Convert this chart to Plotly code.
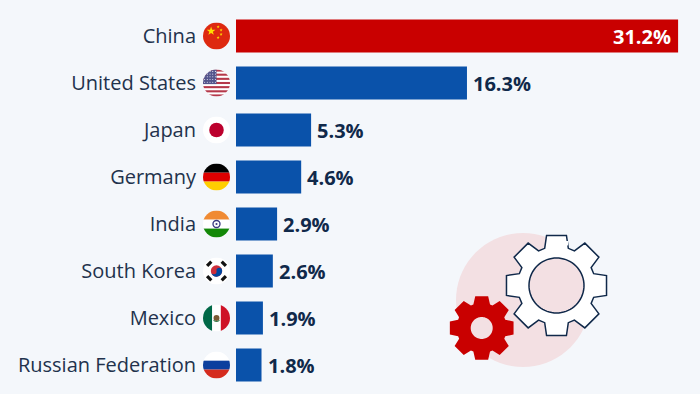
import base64, math
import plotly.graph_objects as go

countries = ["China", "United States", "Japan", "Germany", "India", "South Korea", "Mexico", "Russian Federation"]
shares = [31.2, 16.3, 5.3, 4.6, 2.9, 2.6, 1.9, 1.8]
bar_colors = ["#c90000", "#0a52aa", "#0a52aa", "#0a52aa", "#0a52aa", "#0a52aa", "#0a52aa", "#0a52aa"]
label_colors = ["#ffffff", "#10294a", "#10294a", "#10294a", "#10294a", "#10294a", "#10294a", "#10294a"]
label_inside = [True, False, False, False, False, False, False, False]

W, H = 700, 394
BG = "#f4f7fb"
INK = "#10294a"
TICK_INK = "#22324c"
X0, PX_PER_UNIT = 236, 14.17
ROW0, PITCH, BAR_H = 36, 47, 33


def star(cx, cy, r, rot=-90):
    pts = []
    for i in range(10):
        rad = r if i % 2 == 0 else r * 0.4
        a = math.radians(rot + i * 36)
        pts.append(f"{cx + rad * math.cos(a):.1f},{cy + rad * math.sin(a):.1f}")
    return f'<polygon points="{" ".join(pts)}" fill="#ffde00"/>'


def rect(x, y, w, h, c):
    return f'<rect x="{x}" y="{y}" width="{w}" height="{h}" fill="{c}"/>'


def flag_china():
    return rect(0, 0, 100, 100, "#de2910") + star(30, 32, 17) + "".join(
        star(x, y, 6) for x, y in [(56, 16), (67, 28), (67, 44), (56, 56)])


def flag_us():
    s = rect(0, 0, 100, 100, "#ffffff")
    for i in range(0, 13, 2):
        s += rect(0, i * 100 / 13, 100, 100 / 13, "#b5384a")
    s += rect(0, 0, 50, 54, "#54558c")
    for r in range(5):
        for c in range(5):
            s += f'<circle cx="{6 + c * 10}" cy="{7 + r * 10}" r="2" fill="#e8e8f4"/>'
    return s


def flag_japan():
    return rect(0, 0, 100, 100, "#ffffff") + '<circle cx="50" cy="50" r="27" fill="#bc002d"/>'


def flag_germany():
    return rect(0, 0, 100, 34, "#000000") + rect(0, 34, 100, 33, "#dd0000") + rect(0, 67, 100, 33, "#ffce00")


def flag_india():
    return (rect(0, 0, 100, 34, "#f08a32") + rect(0, 34, 100, 33, "#ffffff") + rect(0, 67, 100, 33, "#138808")
            + '<circle cx="50" cy="50" r="13" fill="none" stroke="#3a3a80" stroke-width="5"/>'
            + '<circle cx="50" cy="50" r="4" fill="#3a3a80"/>')


def flag_korea():
    s = rect(0, 0, 100, 100, "#ffffff")
    s += '<circle cx="50" cy="50" r="21" fill="#cd2e3a"/>'
    s += '<path d="M29 50 A21 21 0 0 0 71 50 A10.5 10.5 0 0 0 50 50 A10.5 10.5 0 0 1 29 50 Z" fill="#0047a0" transform="rotate(-10 50 50)"/>'
    for cx, cy, a in [(23, 23, -45), (77, 23, 45), (23, 77, 45), (77, 77, -45)]:
        s += f'<rect x="{cx - 11}" y="{cy - 6}" width="22" height="12" fill="#111111" transform="rotate({a} {cx} {cy})"/>'
    return s


def flag_mexico():
    return (rect(0, 0, 34, 100, "#006847") + rect(34, 0, 32, 100, "#ffffff") + rect(66, 0, 34, 100, "#ce1126")
            + '<circle cx="50" cy="50" r="11" fill="#7a5a35"/>'
            + '<path d="M39 58 Q50 68 61 58" fill="none" stroke="#3f7f4f" stroke-width="4"/>')


def flag_russia():
    return rect(0, 0, 100, 34, "#ffffff") + rect(0, 34, 100, 33, "#0b3f9e") + rect(0, 67, 100, 33, "#d52b1e")


flags = [flag_china, flag_us, flag_japan, flag_germany, flag_india, flag_korea, flag_mexico, flag_russia]


def flag_uri(body):
    svg = ('<svg xmlns="http://www.w3.org/2000/svg" width="100" height="100" viewBox="0 0 100 100">'
           '<defs><clipPath id="c"><circle cx="50" cy="50" r="50"/></clipPath></defs>'
           f'<g clip-path="url(#c)">{body}</g></svg>')
    return "data:image/svg+xml;base64," + base64.b64encode(svg.encode()).decode()


def px(x):
    return x / W


def py(y):
    return 1 - y / H


images = []
for i, fn in enumerate(flags):
    d = 27
    images.append(dict(source=flag_uri(fn()), xref="paper", yref="paper", x=px(216.5 - d / 2),
                       y=py(ROW0 + PITCH * i - d / 2), sizex=d / W, sizey=d / H,
                       xanchor="left", yanchor="top", sizing="stretch", layer="above"))


def circle_path(cx, cy, r, reverse=False, n=72):
    sign = -1 if reverse else 1
    pts = []
    for k in range(n):
        a = sign * 2 * math.pi * k / n
        pts.append((px(cx + r * math.cos(a)), py(cy + r * math.sin(a))))
    return "M" + " L".join(f"{x:.5f},{y:.5f}" for x, y in pts) + " Z"


def gear_path(cx, cy, ro, ri, half_top, half_base, teeth=8):
    pts = []
    for t in range(teeth):
        c = 2 * math.pi * t / teeth - math.pi / 2
        for r, off in [(ri, -half_base), (ro, -half_top), (ro, half_top), (ri, half_base)]:
            a = c + off / r
            pts.append((px(cx + r * math.cos(a)), py(cy + r * math.sin(a))))
    return "M" + " L".join(f"{x:.5f},{y:.5f}" for x, y in pts) + " Z"


shapes = [
    dict(type="path", xref="paper", yref="paper", path=circle_path(523, 300, 67), fillcolor="#f3e0e3", line_width=0),
    dict(type="path", xref="paper", yref="paper", path=gear_path(556.5, 285.5, 51, 39, 10, 12),
         fillcolor="#ffffff", line=dict(color=INK, width=1.5)),
    dict(type="path", xref="paper", yref="paper", path=circle_path(556.5, 285.5, 27.5),
         fillcolor="#f3e0e3", line=dict(color=INK, width=1.5)),
    dict(type="path", xref="paper", yref="paper",
         path=f"M{px(566.5):.5f},{py(241):.5f} L{px(566.5):.5f},{py(245.5):.5f}",
         line=dict(color="#ffffff", width=3)),
    dict(type="path", xref="paper", yref="paper",
         path=gear_path(481.7, 328, 32.5, 25, 6.5, 8.5) + " " + circle_path(481.7, 328, 11, reverse=True),
         fillcolor="#c90000", line_width=0),
]

annotations = [
    dict(x=v, y=c, xref="x", yref="y", text=f"{v}%", showarrow=False,
         xanchor="right" if ins else "left", xshift=-6 if ins else 5, borderpad=0,
         font=dict(family="Open Sans", size=20, color=col, weight=700))
    for v, c, col, ins in zip(shares, countries, label_colors, label_inside)
]

fig = go.Figure(go.Bar(
    x=shares, y=countries, orientation="h",
    marker=dict(color=bar_colors, line_width=0),
    hoverinfo="skip",
))

fig.update_layout(
    width=W, height=H, margin=dict(l=0, r=0, t=0, b=0, pad=0),
    paper_bgcolor=BG, plot_bgcolor=BG, showlegend=False,
    bargap=1 - BAR_H / PITCH,
    images=images, shapes=shapes, annotations=annotations,
    xaxis=dict(domain=[X0 / W, 1], range=[0, (W - X0) / PX_PER_UNIT], visible=False, fixedrange=True),
    yaxis=dict(
        type="category", categoryorder="array", categoryarray=countries,
        range=[(H - ROW0) / PITCH, -ROW0 / PITCH], showgrid=False, zeroline=False, showline=False,
        ticks="outside", ticklen=35, tickwidth=1, tickcolor="rgba(0,0,0,0)",
        tickfont=dict(family="Open Sans", size=20, color=TICK_INK), automargin=False, fixedrange=True,
    ),
)

fig.write_html("out.html", config=dict(displayModeBar=False),
               post_script="document.body.style.margin='0';document.body.style.overflow='hidden';")
